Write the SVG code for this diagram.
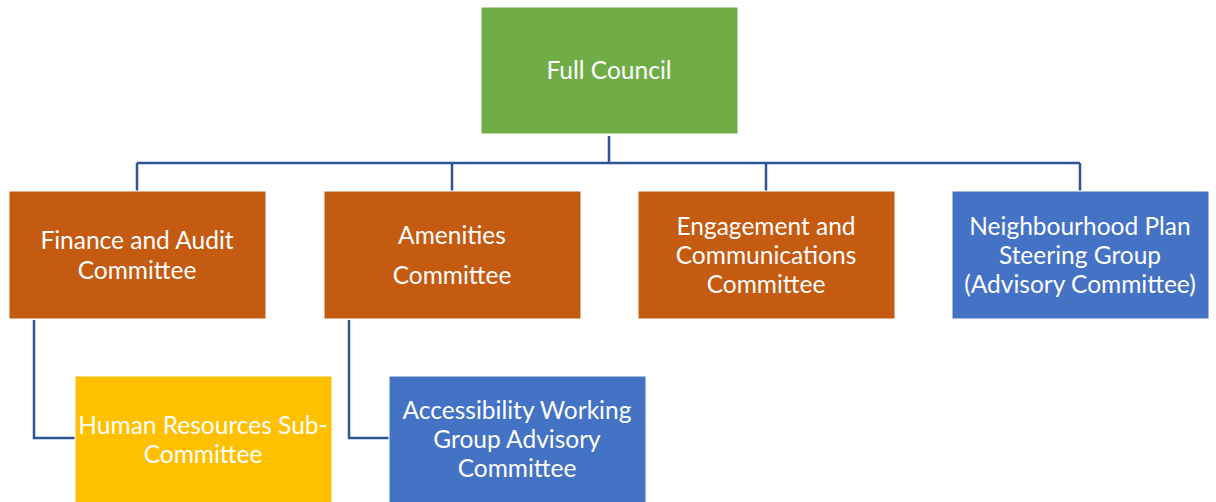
<svg xmlns="http://www.w3.org/2000/svg" width="1216" height="502" viewBox="0 0 1216 502">
<style>
.box{stroke:#ffffff;stroke-width:1}
.g{fill:#70AD47}.o{fill:#C55A11}.b{fill:#4472C4}.y{fill:#FFC000}
text{font-family:Lato,"Open Sans","Liberation Sans",sans-serif;font-size:24.5px;fill:#ffffff;text-anchor:middle;dominant-baseline:central}
.c{fill:none;stroke:#2F5597;stroke-width:2.5}
</style>
<rect width="1216" height="502" fill="#ffffff"/>
<g id="connectors">
<path class="c" d="M609 136V163M137 163H1080M137 163V191M452 163V191M766 163V191M1080 163V191"/>
<path class="c" d="M34 320V438H75M349 320V438H389"/>
</g>
<g id="full-council"><rect class="box g" x="481" y="7" width="257" height="127"/><text x="609" y="69">Full Council</text></g>
<g id="finance"><rect class="box o" x="9" y="191" width="257" height="128"/><text x="137" y="239">Finance and Audit</text><text x="137" y="269">Committee</text></g>
<g id="amenities"><rect class="box o" x="324" y="191" width="257" height="128"/><text x="452" y="234">Amenities</text><text x="452" y="274">Committee</text></g>
<g id="engagement"><rect class="box o" x="638" y="191" width="257" height="128"/><text x="766" y="225">Engagement and</text><text x="766" y="254">Communications</text><text x="766" y="283">Committee</text></g>
<g id="neighbourhood"><rect class="box b" x="952" y="191" width="257" height="128"/><text x="1080" y="225">Neighbourhood Plan</text><text x="1080" y="254">Steering Group</text><text x="1080" y="283">(Advisory Committee)</text></g>
<g id="hr"><rect class="box y" x="75" y="376" width="257" height="128"/><text x="203" y="424">Human Resources Sub-</text><text x="203" y="453">Committee</text></g>
<g id="accessibility"><rect class="box b" x="389" y="376" width="257" height="128"/><text x="517" y="409">Accessibility Working</text><text x="517" y="438">Group Advisory</text><text x="517" y="467">Committee</text></g>
</svg>
